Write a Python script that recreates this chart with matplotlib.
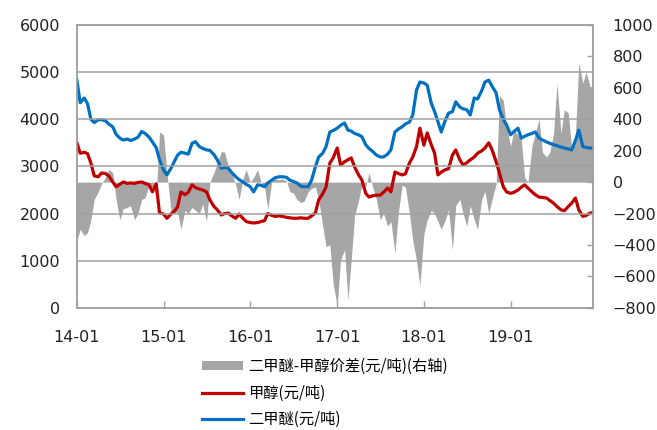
import numpy as np
import matplotlib
matplotlib.use("Agg")
import matplotlib.pyplot as plt
import matplotlib.dates as mdates
from matplotlib.patches import Patch
from matplotlib.lines import Line2D
import pandas as pd

# 半月度数据，2014-01 起
dates = pd.date_range("2014-01-01", periods=144, freq="SMS")

# 二甲醚 (元/吨)
dme = [4830, 4350, 4450, 4330, 4000, 3930, 3990, 3990, 3970, 3900,
       3840, 3680, 3600, 3560, 3580, 3550, 3580, 3620, 3740, 3700,
       3620, 3520, 3400, 3140, 2920, 2820, 2960, 3100, 3240, 3300,
       3280, 3260, 3490, 3525, 3420, 3380, 3350, 3340, 3250, 3140,
       2960, 2980, 2960, 2870, 2780, 2720, 2670, 2620, 2570, 2460,
       2610, 2600, 2570, 2650, 2710, 2760, 2780, 2780, 2770, 2710,
       2680, 2650, 2580, 2570, 2570, 2710, 2990, 3200, 3280, 3420,
       3730, 3760, 3810, 3870, 3920, 3770, 3750, 3700, 3670, 3630,
       3460, 3380, 3310, 3240, 3200, 3200, 3260, 3350, 3730, 3790,
       3840, 3900, 3940, 4090, 4620, 4790, 4770, 4720, 4340, 4160,
       3950, 3730, 3980, 4130, 4160, 4370, 4260, 4220, 4200, 4090,
       4450, 4430, 4600, 4790, 4830, 4700, 4560, 4200, 4000, 3880,
       3670, 3740, 3810, 3600, 3640, 3670, 3700, 3730, 3600, 3560,
       3520, 3490, 3460, 3440, 3410, 3390, 3370, 3350, 3550, 3770,
       3420, 3400, 3390, 3390]

# 甲醇 (元/吨)
methanol = [3500, 3280, 3300, 3270, 3070, 2800, 2780, 2860, 2850, 2800,
            2670, 2570, 2620, 2670, 2640, 2650, 2640, 2660, 2670, 2640,
            2610, 2460, 2630, 2010, 1990, 1900, 1990, 2050, 2140, 2460,
            2400, 2450, 2610, 2550, 2520, 2500, 2460, 2290, 2150, 2080,
            1970, 2000, 2010, 1950, 1900, 1990, 1900, 1830, 1810, 1800,
            1810, 1830, 1850, 2000, 1960, 1940, 1950, 1940, 1920, 1910,
            1900, 1900, 1910, 1900, 1900, 1950, 2010, 2290, 2420, 2560,
            3070, 3180, 3390, 3030, 3100, 3140, 3180, 2990, 2820, 2710,
            2430, 2350, 2380, 2390, 2390, 2450, 2540, 2460, 2880, 2850,
            2820, 2840, 3070, 3200, 3420, 3810, 3450, 3710, 3460, 3280,
            2820, 2880, 2930, 2950, 3240, 3350, 3140, 3030, 3080, 3140,
            3200, 3280, 3330, 3390, 3500, 3350, 3100, 2860, 2570, 2460,
            2430, 2450, 2500, 2560, 2610, 2540, 2460, 2400, 2350, 2340,
            2330, 2280, 2220, 2150, 2080, 2060, 2150, 2220, 2330, 2080,
            1940, 1960, 2010, 2020]

# 二甲醚-甲醇价差 (元/吨)，右轴
spread = [-370, -300, -340, -320, -240, -110, -60, -10, 30, 80,
          60, -110, -240, -170, -160, -150, -240, -200, -110, -100,
          -20, -30, -80, 320, 300, 60, -180, -195, -190, -300,
          -180, -200, -160, -180, -200, -140, -250, 0, 60, 120,
          195, 190, 100, 60, -20, -110, 20, 80, 0, 30,
          80, 0, -30, -175, 15, 20, 15, 20, 10, -60,
          -70, -110, -130, -120, -60, -40, -30, -110, -280, -410,
          -400, -645, -790, -495, -430, -750, -495, -215, -115, -20,
          -30, 60, -40, -110, -240, -200, -280, -250, -450, -200,
          -20, -30, -200, -370, -500, -660, -330, -240, -180, -200,
          -250, -300, -240, -175, -430, -150, -110, -200, -280, -150,
          -240, -300, -110, -60, -200, -110, -10, 550, 520, 350,
          230, 330, 300, 270, 30, 0, 230, 310, 400, 190,
          160, 190, 310, 630, 310, 460, 440, 210, 300, 760,
          630, 700, 610, 600]

legend_labels = ["二甲醚-甲醇价差(元/吨)(右轴)", "甲醇(元/吨)", "二甲醚(元/吨)"]

red = "#c00000"
blue = "#0070c0"
gray = "#a6a6a6"
frame = "#a0a0a0"

fig = plt.figure(figsize=(6.57, 4.30), dpi=100)
ax = fig.add_axes([0.117, 0.284, 0.786, 0.658])
ax2 = ax.twinx()

# 价差面积放在底层，网格线和价格曲线在上
ax.set_zorder(ax2.get_zorder() + 1)
ax.patch.set_visible(False)

ax2.fill_between(dates, spread, 0, color=gray, lw=0)
ax.plot(dates, methanol, color=red, lw=2.3)
ax.plot(dates, dme, color=blue, lw=2.3)

ax.set_ylim(0, 6000)
ax.set_yticks(np.arange(0, 6001, 1000))
ax2.set_ylim(-800, 1000)
ax2.set_yticks(np.arange(-800, 1001, 200))
ax.set_xlim(dates[0], dates[-1])

ax.xaxis.set_major_locator(mdates.YearLocator())
ax.xaxis.set_major_formatter(mdates.DateFormatter("%y-%m"))

ax.grid(axis="y", color=frame, lw=1.1)
ax.set_axisbelow(False)

for a in (ax, ax2):
    for s in a.spines.values():
        s.set_color(frame)
        s.set_linewidth(1.1)

ax.tick_params(axis="y", length=0, pad=12, labelsize=11.5, colors="#222222")
ax.tick_params(axis="x", direction="in", length=5, width=1, color=frame,
               pad=16, labelsize=11.5, labelcolor="#222222")
ax2.tick_params(axis="y", direction="in", length=4, width=1, color=frame,
                pad=14, labelsize=11.5, labelcolor="#222222")

handles = [Patch(facecolor=gray, edgecolor="none"),
           Line2D([], [], color=red, lw=2.3),
           Line2D([], [], color=blue, lw=2.3)]
fig.legend(handles, legend_labels, loc="upper left",
           bbox_to_anchor=(0.291, 0.192), frameon=False,
           prop={"family": ["Noto Sans CJK SC", "DejaVu Sans"], "size": 11},
           handlelength=2.7, handleheight=0.5, handletextpad=0.35,
           labelspacing=0.62, borderpad=0.2)

fig.savefig("out.png", dpi=100)
